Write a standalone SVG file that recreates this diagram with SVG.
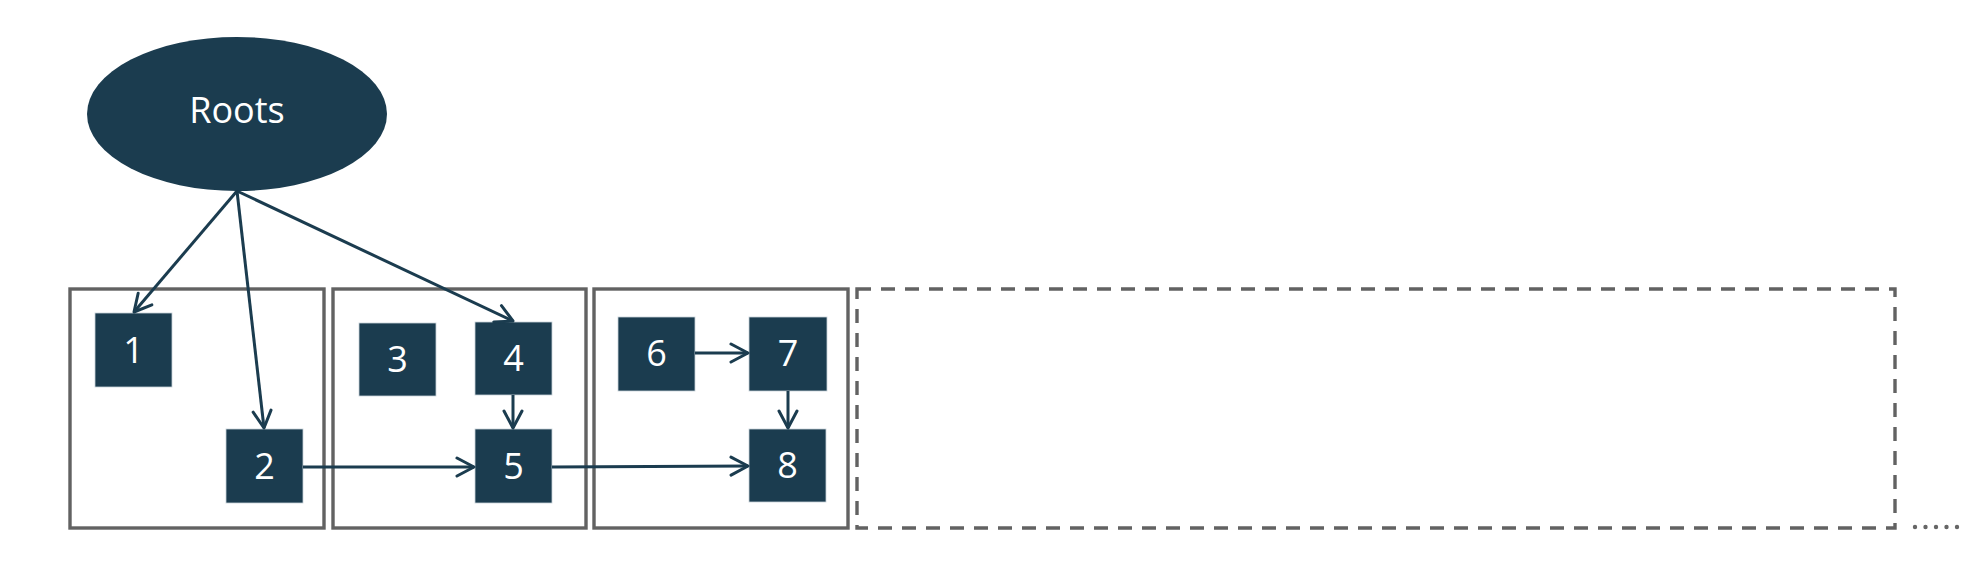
<svg xmlns="http://www.w3.org/2000/svg" width="1986" height="566" viewBox="0 0 1986 566">
<defs>
<style>
.node{fill:#1b3c4f;stroke:#c9d3da;stroke-width:0.8}
.lbl{fill:#ffffff;font-family:"Open Sans","Liberation Sans",sans-serif;font-size:36px;text-anchor:middle}
.box{fill:none;stroke:#626262;stroke-width:3.4}
.edge{fill:none;stroke:#1b3c4f;stroke-width:3;marker-end:url(#arr)}
</style>
<marker id="arr" markerUnits="userSpaceOnUse" markerWidth="22" markerHeight="22" viewBox="0 0 22 22" refX="19" refY="11" orient="auto">
<path d="M2,2 L19,11 L2,20" fill="none" stroke="#1b3c4f" stroke-width="3" stroke-linecap="round" stroke-linejoin="round"/>
</marker>
</defs>
<rect width="1986" height="566" fill="#ffffff"/>
<g id="regions">
<rect class="box" x="70" y="289" width="254" height="239"/>
<rect class="box" x="333" y="289" width="253" height="239"/>
<rect class="box" x="594" y="289" width="254" height="239"/>
<rect class="box" x="857" y="289" width="1038" height="239" stroke-dasharray="14 10"/>
<path d="M1915,527 L1958,527" fill="none" stroke="#666666" stroke-width="4.4" stroke-linecap="round" stroke-dasharray="0 10.5"/>
</g>
<g id="roots">
<ellipse cx="237" cy="114" rx="150" ry="77" fill="#1b3c4f"/>
<text class="lbl" x="237" y="123" font-size="32">Roots</text>
</g>
<g id="n1"><rect class="node" x="95" y="313" width="77" height="74"/><text class="lbl" x="133.5" y="363">1</text></g>
<g id="n2"><rect class="node" x="226" y="429" width="77" height="74"/><text class="lbl" x="264.5" y="479">2</text></g>
<g id="n3"><rect class="node" x="359" y="323" width="77" height="73"/><text class="lbl" x="397.5" y="372">3</text></g>
<g id="n4"><rect class="node" x="475" y="322" width="77" height="73"/><text class="lbl" x="513.5" y="371">4</text></g>
<g id="n5"><rect class="node" x="475" y="429" width="77" height="74"/><text class="lbl" x="513.5" y="479">5</text></g>
<g id="n6"><rect class="node" x="618" y="317" width="77" height="74"/><text class="lbl" x="656.5" y="366">6</text></g>
<g id="n7"><rect class="node" x="749" y="317" width="78" height="74"/><text class="lbl" x="788" y="366">7</text></g>
<g id="n8"><rect class="node" x="749" y="429" width="77" height="73"/><text class="lbl" x="787.5" y="478">8</text></g>
<g id="connectors">
<path class="edge" d="M237,191 L134,312"/>
<path class="edge" d="M237,191 L264,428"/>
<path class="edge" d="M237,191 L513,321"/>
<path class="edge" d="M513,395 L513,428"/>
<path class="edge" d="M303,467 L474,467"/>
<path class="edge" d="M552,467 L748,466"/>
<path class="edge" d="M695,353 L748,353"/>
<path class="edge" d="M788,391 L788,428"/>
</g>
</svg>
